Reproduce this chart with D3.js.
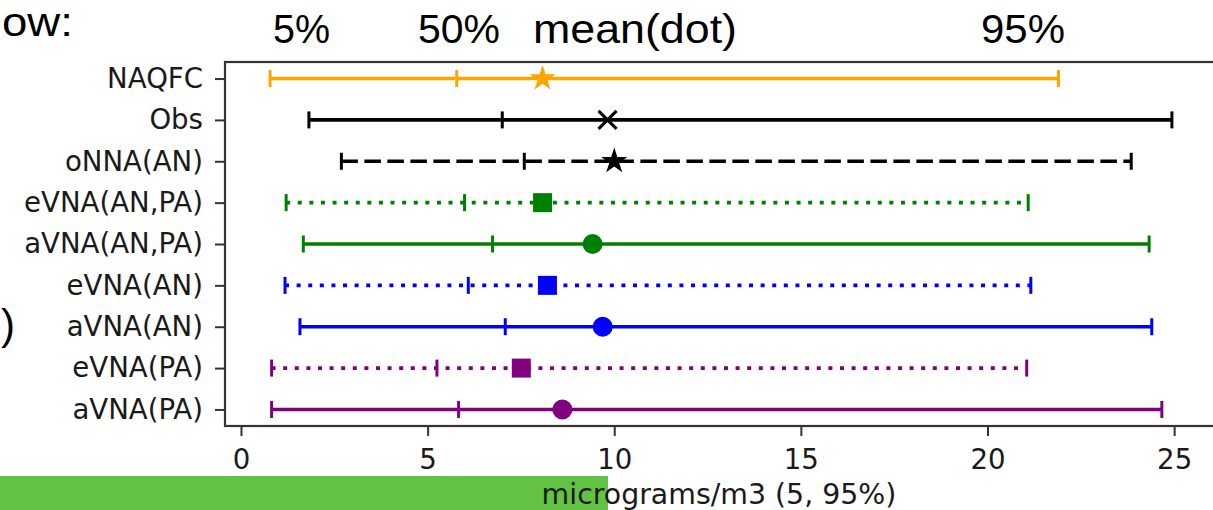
<!DOCTYPE html>
<html>
<head>
<meta charset="utf-8">
<script src="https://cdn.jsdelivr.net/npm/d3@7"></script>
<style>
  html, body { margin: 0; padding: 0; background: #fff; }
  svg { display: block; }
</style>
</head>
<body>
<svg id="chart" width="1213" height="510"></svg>
<script>
// PM2.5 percentile summary per model: 5%, 50%, mean and 95% (micrograms/m3)
const models = ["NAQFC", "Obs", "oNNA(AN)", "eVNA(AN,PA)", "aVNA(AN,PA)", "eVNA(AN)", "aVNA(AN)", "eVNA(PA)", "aVNA(PA)"];
const p5   = [0.78, 1.82, 2.69, 1.21, 1.67, 1.18, 1.58, 0.82, 0.82];
const p50  = [5.78, 7.00, 7.59, 5.99, 6.74, 6.09, 7.08, 5.25, 5.83];
const mean = [8.08, 9.82, 10.00, 8.08, 9.42, 8.21, 9.69, 7.51, 8.61];
const p95  = [21.90, 24.94, 23.85, 21.09, 24.33, 21.16, 24.40, 21.05, 24.67];
const colors  = ["#ffa500", "#000000", "#000000", "#008000", "#008000", "#0000ff", "#0000ff", "#800080", "#800080"];
const lineStyles = ["solid", "solid", "dashed", "dotted", "solid", "dotted", "solid", "dotted", "solid"];
const markers = ["star", "x", "star", "square", "circle", "square", "circle", "square", "circle"];
const xTicks = [0, 5, 10, 15, 20, 25];
const headerLabels = ["5%", "50%", "mean(dot)", "95%"];
const xLabel = "micrograms/m3 (5, 95%)";

const svg = d3.select("#chart");
const plot = { left: 225, right: 1217, top: 62, bottom: 426 };

// x-limits padded by 5% of the data span, like the plotting default
const lo = d3.min(p5), hi = d3.max(p95), pad = (hi - lo) * 0.05;
const x = d3.scaleLinear().domain([lo - pad, hi + pad]).range([plot.left, plot.right]);
const y = d3.scalePoint().domain(models).range([plot.top, plot.bottom]).padding(0.4);

const dashes = { solid: null, dashed: "16.5,6.5", dotted: "4,7.6" };

// slide text around the figure
const slideFont = "'Liberation Sans', Arial, sans-serif";
svg.append("text").attr("x", 2).attr("y", 36)
  .attr("textLength", 71).attr("lengthAdjust", "spacingAndGlyphs")
  .attr("font-family", slideFont).attr("font-size", 40).attr("fill", "#000").text("ow:");
svg.append("text").attr("x", 15).attr("y", 339).attr("text-anchor", "end")
  .attr("font-family", slideFont).attr("font-size", 42).attr("fill", "#000").text(")");

// column headings above the plot
const headerPos = [[273, 57], [418, 82], [533, 204], [981, 84]];
svg.selectAll("text.head").data(headerLabels).join("text")
  .attr("class", "head")
  .attr("x", (d, i) => headerPos[i][0]).attr("y", 43)
  .attr("textLength", (d, i) => headerPos[i][1]).attr("lengthAdjust", "spacingAndGlyphs")
  .attr("font-family", slideFont).attr("font-size", 40).attr("fill", "#000")
  .text(d => d);

// green highlight bar along the bottom edge
svg.append("rect").attr("x", 0).attr("y", 476).attr("width", 608).attr("height", 34).attr("fill", "#62c243");

// axes
const axisFont = "'DejaVu Sans', sans-serif";
const gx = svg.append("g").attr("transform", `translate(0,${plot.bottom})`)
  .call(d3.axisBottom(x).tickValues(xTicks).tickSize(10).tickPadding(13).tickSizeOuter(0));
const gy = svg.append("g").attr("transform", `translate(${plot.left},0)`)
  .call(d3.axisLeft(y).tickSize(10).tickPadding(12).tickSizeOuter(0));
[gx, gy].forEach(g => {
  g.select(".domain").remove();
  g.selectAll(".tick line").attr("stroke", "#333").attr("stroke-width", 2);
  g.selectAll(".tick text").attr("fill", "#1a1a1a").attr("font-family", axisFont).attr("font-size", 27.6);
});

// axes frame
svg.append("rect")
  .attr("x", plot.left).attr("y", plot.top)
  .attr("width", plot.right - plot.left).attr("height", plot.bottom - plot.top)
  .attr("fill", "none").attr("stroke", "#333").attr("stroke-width", 2.2);

svg.append("text").attr("x", 719).attr("y", 504).attr("text-anchor", "middle")
  .attr("font-family", axisFont).attr("font-size", 28.4).attr("fill", "#1a1a1a").text(xLabel);

// one range bar per model
const rows = models.map((m, i) => ({ m, i, lo: p5[i], med: p50[i], mean: mean[i], hi: p95[i], c: colors[i], ls: lineStyles[i], mk: markers[i] }));
const rowG = svg.selectAll("g.row").data(rows).join("g").attr("class", "row")
  .attr("transform", d => `translate(0,${y(d.m)})`);

rowG.append("line")
  .attr("x1", d => x(d.lo)).attr("x2", d => x(d.hi))
  .attr("stroke", d => d.c).attr("stroke-width", 3.6)
  .attr("stroke-dasharray", d => dashes[d.ls]);

const capHalf = 8.5;
["lo", "med", "hi"].forEach(k => {
  rowG.append("line")
    .attr("x1", d => x(d[k])).attr("x2", d => x(d[k]))
    .attr("y1", -capHalf).attr("y2", capHalf)
    .attr("stroke", d => d.c).attr("stroke-width", 3);
});

const symbolSizes = { star: 210, square: 361, circle: 314 };
const symbolTypes = { star: d3.symbolStar, square: d3.symbolSquare, circle: d3.symbolCircle };
rowG.filter(d => d.mk !== "x").append("path")
  .attr("transform", d => `translate(${x(d.mean)},0)`)
  .attr("d", d => d3.symbol().type(symbolTypes[d.mk]).size(symbolSizes[d.mk])())
  .attr("fill", d => d.c);

const xr = 9;
rowG.filter(d => d.mk === "x").append("path")
  .attr("transform", d => `translate(${x(d.mean)},0)`)
  .attr("d", `M${-xr},${-xr}L${xr},${xr}M${-xr},${xr}L${xr},${-xr}`)
  .attr("stroke", d => d.c).attr("stroke-width", 3).attr("fill", "none");
</script>
</body>
</html>
